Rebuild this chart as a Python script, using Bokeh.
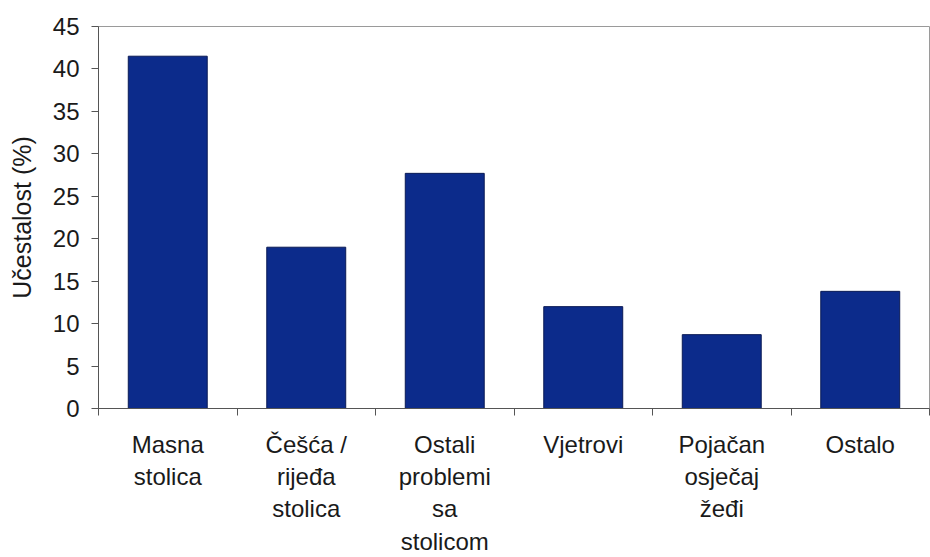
from bokeh.plotting import figure
from bokeh.models import Range1d, FixedTicker, ColumnDataSource
from bokeh.embed import file_html
from bokeh.resources import INLINE

categories = ["Masna\nstolica", "Češća /\nrijeđa\nstolica", "Ostali\nproblemi\nsa\nstolicom",
              "Vjetrovi", "Pojačan\nosječaj\nžeđi", "Ostalo"]
values = [41.5, 19.0, 27.7, 12.0, 8.7, 13.8]
y_ticks = [0, 5, 10, 15, 20, 25, 30, 35, 40, 45]
y_label = "Učestalost (%)"

centers = [i + 0.5 for i in range(len(categories))]
bounds = list(range(len(categories) + 1))

src = ColumnDataSource(dict(x=centers, top=values, name=categories))

p = figure(width=930, height=557, output_backend="svg", toolbar_location=None,
           x_range=Range1d(0, len(categories)), y_range=Range1d(0, 45),
           min_border_left=98, min_border_right=1, min_border_top=26, min_border_bottom=145)

p.vbar(x="x", top="top", width=0.57, bottom=0, source=src,
       fill_color="#0c2b8b", line_color="#0a1a55", line_width=1)

p.grid.visible = False
p.outline_line_color = "#9a9a9a"
p.outline_line_width = 1
p.background_fill_color = "white"
p.border_fill_color = "white"

font = "Liberation Sans"

# x axis
xa = p.xaxis[0]
xa.ticker = FixedTicker(ticks=centers, minor_ticks=bounds)
xa.major_label_overrides = {c: n for c, n in zip(centers, categories)}
xa.major_tick_line_color = None
xa.major_tick_out = 7
xa.major_tick_in = 0
xa.minor_tick_out = 7
xa.minor_tick_in = 0
xa.minor_tick_line_color = "#555555"
xa.axis_line_color = "#555555"
xa.major_label_text_font = font
xa.major_label_text_font_size = "24px"
xa.major_label_text_color = "#1a1a1a"
xa.major_label_standoff = 15

# y axis
ya = p.yaxis[0]
ya.ticker = FixedTicker(ticks=y_ticks, minor_ticks=[])
ya.major_tick_out = 7
ya.major_tick_in = 0
ya.major_tick_line_color = "#555555"
ya.axis_line_color = "#555555"
ya.major_label_text_font = font
ya.major_label_text_font_size = "24px"
ya.major_label_text_color = "#1a1a1a"
ya.major_label_standoff = 12
ya.axis_label = y_label
ya.axis_label_text_font = font
ya.axis_label_text_font_size = "25px"
ya.axis_label_text_font_style = "normal"
ya.axis_label_text_color = "#1a1a1a"
ya.axis_label_standoff = 14

open("out.html", "w").write(file_html(p, INLINE))
